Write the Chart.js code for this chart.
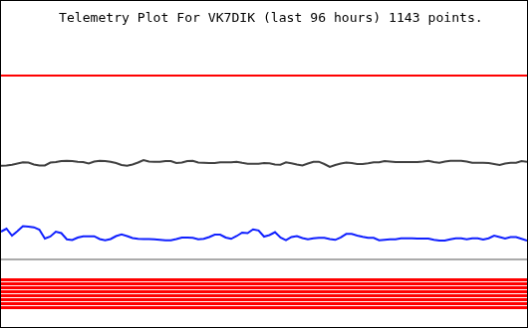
<!DOCTYPE html>
<html>
<head>
<meta charset="utf-8">
<script src="https://cdn.jsdelivr.net/npm/chart.js@4/dist/chart.umd.min.js"></script>
<style>
  html, body { margin: 0; padding: 0; background: white; }
  #telemetry { display: block; border: 1px solid black; }
</style>
</head>
<body>
<canvas id="telemetry" width="528" height="328"></canvas>
<script>
const titleText = 'Telemetry Plot For VK7DIK (last 96 hours) 1143 points.';

// hours into the 96 hour window
const hours = [0, 1, 2, 3, 4, 5, 6, 7, 8, 9, 10, 11, 12, 13, 14, 15, 16, 17, 18, 19,
  20, 21, 22, 23, 24, 25, 26, 27, 28, 29, 30, 31, 32, 33, 34, 35, 36, 37, 38, 39,
  40, 41, 42, 43, 44, 45, 46, 47, 48, 49, 50, 51, 52, 53, 54, 55, 56, 57, 58, 59,
  60, 61, 62, 63, 64, 65, 66, 67, 68, 69, 70, 71, 72, 73, 74, 75, 76, 77, 78, 79,
  80, 81, 82, 83, 84, 85, 86, 87, 88, 89, 90, 91, 92, 93, 94, 95, 96];

// channel values (plot units, 0..328)
const blackValues = [162.3, 162.5, 163.3, 164.5, 165.7, 165.5, 163.5, 162.5, 162.5, 165.5,
  166, 167, 167.3, 167, 166.3, 166, 164.5, 166.5, 167.3, 167,
  166.3, 165, 163, 162.3, 163.5, 165.5, 168, 166.5, 166.3, 166.3,
  167, 167, 165, 165.5, 167, 167.2, 165.5, 165.3, 165, 165,
  165.7, 165.7, 165.7, 166.3, 165.2, 164.3, 164.3, 164.3, 165, 164.7,
  163.5, 163.3, 165.7, 164.7, 163.5, 162.5, 164.5, 166.3, 166.3, 164,
  161, 163, 164.5, 165.5, 165, 164, 164, 164.7, 165.7, 165.7,
  167, 166.5, 166, 166, 166, 166, 166, 166.5, 167.3, 166,
  165.3, 166.5, 167.3, 167.3, 167.3, 166.5, 165.3, 165.3, 165.3, 165,
  164, 163, 164.5, 165.3, 165.3, 167, 166.3];

const blueValues = [96, 99, 92, 96.5, 101.5, 101, 100.3, 98, 89, 91,
  96, 94.5, 88.3, 87.5, 90, 91.3, 91.3, 91.3, 88.5, 87.3,
  88.5, 91.5, 93.3, 91.5, 89.5, 88.7, 88.5, 88.5, 88.3, 87.8,
  87.3, 87.3, 88.5, 90, 90, 89.8, 88.3, 88.7, 90.5, 93,
  93, 90, 88.7, 91.5, 95, 94.5, 98.3, 97.2, 91, 92.5,
  95.5, 90, 87.3, 90.5, 91.5, 89.5, 88.2, 89.3, 89.7, 89.7,
  88.5, 87.7, 90.2, 93.7, 93.7, 92, 90.8, 89.8, 89.7, 87.3,
  87.8, 88.3, 88.3, 89.3, 89.3, 89.3, 89, 89, 89, 87.7,
  87, 87, 88.3, 89.3, 89.3, 88.3, 89.3, 89.3, 88, 89.3,
  92, 90.5, 89, 90.4, 90.5, 88.7, 87];

// channels that stayed flat for the whole window
const redLevel = 253;
const greyLevel = 68;
const stripeLevels = [47.5, 43.5, 39.5, 35.5, 31.5, 27.5, 23.5, 19.5];

const first = hours[0];
const last = hours[hours.length - 1];

function series(values) {
  return hours.map((h, i) => ({ x: h, y: values[i] }));
}
function flat(level) {
  return [{ x: first, y: level }, { x: last, y: level }];
}
function line(data, color, width) {
  return { data: data, borderColor: color, borderWidth: width, pointRadius: 0, tension: 0, fill: false };
}

const datasets = [
  line(flat(redLevel), '#ff0000', 2),
  line(series(blackValues), '#404040', 2),
  line(series(blueValues), '#1020ff', 2),
  line(flat(greyLevel), '#aaaaaa', 2)
];
stripeLevels.forEach(lvl => datasets.push(line(flat(lvl), '#ff0000', 3)));

const titlePlugin = {
  id: 'plotTitle',
  afterDraw: (chart) => {
    const c = chart.ctx;
    c.save();
    c.fillStyle = 'black';
    c.font = '13.1px "DejaVu Sans Mono"';
    c.textAlign = 'left';
    c.textBaseline = 'alphabetic';
    c.fillText(titleText, 58, 21);
    c.restore();
  }
};

new Chart(document.getElementById('telemetry').getContext('2d'), {
  type: 'line',
  data: { datasets: datasets },
  options: {
    responsive: false,
    animation: false,
    layout: { padding: 0 },
    scales: {
      x: { type: 'linear', min: first, max: last, display: false },
      y: { min: 0, max: 328, display: false }
    },
    plugins: {
      legend: { display: false },
      title: { display: false },
      tooltip: { enabled: false }
    }
  },
  plugins: [titlePlugin]
});
</script>
</body>
</html>
